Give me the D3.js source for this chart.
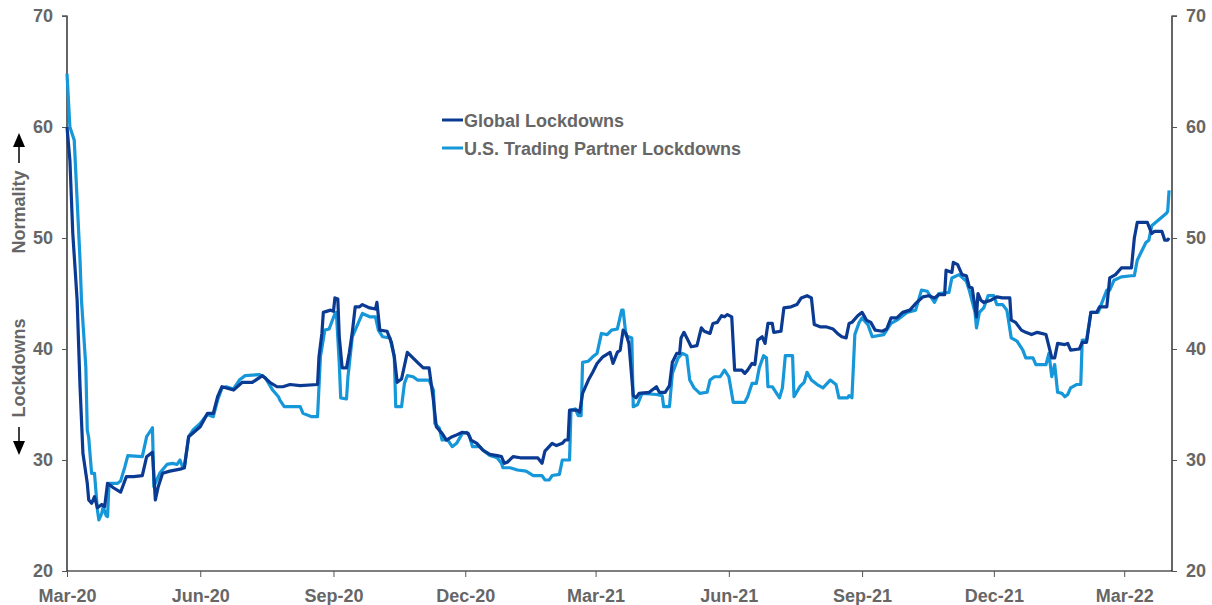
<!DOCTYPE html>
<html><head><meta charset="utf-8">
<script src="https://cdn.jsdelivr.net/npm/d3@7"></script>
<style>body{margin:0;background:#fff;}svg{display:block;font-family:"Liberation Sans",Arial,sans-serif;}</style>
</head><body>
<svg id="chart" width="1212" height="605"></svg>
<script>
// Dates are day offsets from 2020-03-01
const startDate = new Date(2020, 2, 1);
const endDay = 763;
const seriesNames = ["Global Lockdowns", "U.S. Trading Partner Lockdowns"];
const seriesColors = ["#0a3a92", "#1597d9"];
const yTicks = [20, 30, 40, 50, 60, 70];
const xTickLabels = ["Mar-20","Jun-20","Sep-20","Dec-20","Mar-21","Jun-21","Sep-21","Dec-21","Mar-22"];
const xTickDates = ["2020-03-01","2020-06-01","2020-09-01","2020-12-01","2021-03-01","2021-06-01","2021-09-01","2021-12-01","2022-03-01"];

const globalDays = [0,2,4,7,9,11,14,15,17,19,21,24,26,28,32,37,41,46,52,55,59,61,63,66,71,79,81,84,92,97,101,104,107,115,121,128,135,140,145,149,154,161,173,174,176,177,182,184,185,187,188,190,193,195,197,199,202,204,209,213,214,216,221,224,226,228,231,235,242,246,250,253,255,259,262,266,268,273,277,279,283,287,292,297,300,302,304,308,313,325,328,330,335,338,342,344,346,347,352,354,356,360,363,366,370,375,377,380,382,384,386,388,391,393,395,402,407,409,413,416,418,421,423,424,426,428,431,435,438,440,444,446,449,452,454,456,459,461,466,468,470,473,475,477,480,482,484,487,488,493,495,500,504,507,511,514,516,520,524,529,532,535,538,540,542,546,549,552,555,558,563,566,569,573,577,582,586,591,595,599,602,606,607,611,612,615,618,621,623,625,628,629,631,633,638,642,646,651,652,655,659,662,666,670,676,680,682,684,689,691,693,699,701,704,707,711,713,718,720,724,728,735,737,739,746,749,751,756,758,760,761];
const globalValues = [60,57,50.4,44.4,36.6,30.6,27.9,26.4,26.1,26.7,25.7,26,25.8,27.9,27.5,27.1,28.5,28.5,28.6,30.3,30.7,26.4,27.6,28.8,29,29.2,29.3,32.1,33,34.2,34.2,35.7,36.6,36.3,37,37,37.6,37,36.6,36.6,36.8,36.7,36.8,39.3,41.4,43.3,43.5,43.4,44.6,44.5,41.1,38.3,38.3,39.7,41.5,43.8,43.8,44,43.7,43.6,44.2,41.7,41.6,40.6,39.3,37,37.3,39.7,38.8,38.3,38.3,35.4,33,32.4,31.8,32.1,32.2,32.5,32.4,31.8,31.5,30.9,30.5,30.4,30.3,29.7,29.8,30.3,30.2,30.2,29.7,30.8,31.5,31.3,31.5,31.8,31.8,34.5,34.5,34.3,36,37.2,37.9,38.7,39.3,39.7,38.7,39.7,39.9,41.7,41.4,40.5,35.8,35.6,36,36.1,36.6,36.1,36.1,36.7,38.8,39.6,39.6,41,41.5,41,40.2,40.3,41.9,41.6,41.4,42.3,42.4,43,42.9,43.1,42.9,38.1,38.1,37.8,38.1,38.7,38.6,40.8,41.1,40.5,42.3,42.3,41.5,41.6,43.7,43.8,44,44.6,44.8,44.6,42.2,42,42,41.8,41.4,41.1,41,42.3,42.4,43,43.3,42.6,42.4,41.7,41.6,41.8,42.8,42.8,43.3,43.5,44.1,44.7,44.8,44.6,44.9,44.9,47.1,46.9,47.8,47.6,46.7,46.6,45.6,45.5,42.9,45,44.4,44.2,44.4,44.7,44.6,44.6,42.6,42.4,41.7,41.5,41.3,41.5,41.3,39.2,39.2,40.5,40.4,40.5,39.9,40,40.6,40.6,43.3,43.3,43.8,43.8,46.4,46.7,47.3,47.3,50,51.4,51.4,50.4,50.6,50.6,49.8,49.8,50];

const tradeDays = [0,2,5,9,10,13,14,15,17,19,21,22,24,25,27,28,29,35,37,40,42,52,55,57,59,60,64,69,73,76,78,80,81,84,87,92,95,97,101,104,107,110,115,119,123,133,137,142,146,147,150,161,163,169,173,175,178,181,185,186,188,189,193,194,197,201,204,209,213,215,218,223,226,227,231,233,235,239,242,250,253,254,257,259,263,266,269,273,276,278,280,285,288,292,297,300,301,306,311,317,322,328,330,333,335,340,342,347,348,351,353,355,356,360,363,366,369,373,376,380,383,384,386,390,391,394,397,407,411,412,416,418,422,425,428,430,433,437,442,444,447,451,454,457,460,468,470,473,476,478,481,483,484,487,490,492,494,496,501,502,506,509,511,514,518,522,527,531,533,539,540,542,544,547,549,553,556,564,569,573,580,586,590,594,599,602,609,611,616,621,623,627,628,630,633,636,640,642,646,649,652,656,660,662,667,669,676,678,680,682,684,687,689,691,693,697,700,701,704,707,712,718,720,723,728,735,737,739,745,747,749,759,760,761];
const tradeValues = [64.8,60,58.8,48,44.4,38.4,32.7,32,28.8,28.8,25.5,24.6,25.2,25.8,25,24.9,27.9,27.9,28.1,29.4,30.4,30.3,32.1,32.5,32.9,27.6,28.8,29.6,29.7,29.6,30,29.3,29.3,32.1,32.7,33.3,33.8,34.1,33.9,35.4,36.5,36.6,36.4,37.2,37.6,37.7,37.4,36.3,35.7,35.4,34.8,34.8,34.2,33.9,33.9,39.3,41.7,41.8,43.2,43.3,38.7,35.6,35.5,37.5,41.1,42.3,43.2,42.9,42.9,41.7,41.1,41,39.3,34.8,34.8,36.9,37.6,37.5,37.2,37.2,36.3,33.3,32.9,31.8,31.8,31.2,31.5,32.4,32.5,32.1,31.2,31.2,30.8,30.4,30.2,29.7,29.3,29.3,29.1,29,28.6,28.6,28.2,28.2,28.6,28.7,30,30,34.5,34.6,34,34,38.8,38.9,39.3,39.6,41.4,41.3,41.7,41.8,43.5,43.5,41.2,41,34.8,35,36,35.9,35.8,34.8,34.8,37.8,39.2,39.6,39.4,37.2,36.5,36,36.1,37.2,37.5,37.5,38.1,37.5,35.2,35.2,35.7,36.9,36.9,38.3,39.4,39.2,36.6,36.6,36,35.6,36.5,39.4,39.4,35.7,36.6,37,37.9,37.2,36.8,36.5,37.2,36.8,35.6,35.6,35.8,35.6,41.3,42.4,42.8,42.2,41.1,41.3,42.3,42.6,43.3,43.5,45.3,45.2,44.2,45,45.1,46.4,46.7,46.1,45.3,43.3,41.9,43.3,43.7,44.8,44.8,44,44,43.5,41,40.7,39.9,39.2,39.2,38.6,38.6,39.6,37.5,38.6,36.1,36,35.7,35.9,36.5,36.8,36.8,40.8,40.8,43.3,43.3,45.3,45.3,46.2,46.5,46.6,46.6,48,49.6,49.8,51.1,52.2,52.4,54.3,54.5];

(function () {
const svg = d3.select("#chart");
const mLeft = 67, mRight = 1172, mTop = 16, mBottom = 571;
const toDate = d => d3.timeDay.offset(startDate, d);
const x = d3.scaleTime().domain([startDate, toDate(endDay)]).range([mLeft, mRight]);
const y = d3.scaleLinear().domain([20, 70]).range([mBottom, mTop]);
const parse = d3.timeParse("%Y-%m-%d");
const gray = "#666666";
const fs = 18;

const yL = svg.append("g").attr("transform", `translate(${mLeft},0)`)
  .call(d3.axisLeft(y).tickValues(yTicks).tickSize(5).tickPadding(9).tickFormat(d3.format("d")));
const yR = svg.append("g").attr("transform", `translate(${mRight},0)`)
  .call(d3.axisRight(y).tickValues(yTicks).tickSize(5).tickPadding(9).tickFormat(d3.format("d")));
const xA = svg.append("g").attr("transform", `translate(0,${mBottom})`)
  .call(d3.axisBottom(x).tickValues(xTickDates.map(parse)).tickSize(6).tickPadding(10)
    .tickFormat((d, i) => xTickLabels[i]));
[yL, yR, xA].forEach(g => {
  g.select(".domain").attr("stroke", "#000").attr("stroke-width", 1.2);
  g.selectAll(".tick line").attr("stroke", "#555");
  g.selectAll(".tick text").attr("fill", gray).attr("font-size", fs).attr("font-weight", "bold")
    .attr("font-family", "Liberation Sans, Arial, sans-serif");
});
yL.select(".domain").attr("d", `M-5,${mTop}H0V${mBottom}`);
yR.select(".domain").attr("d", `M5,${mTop}H0V${mBottom}`);
xA.select(".domain").attr("d", `M${mLeft},0H${mRight}`);
xA.selectAll(".tick text").attr("dy", "0.85em");

const line = d3.line().x(d => x(toDate(d[0]))).y(d => y(d[1]));
const series = [d3.zip(globalDays, globalValues), d3.zip(tradeDays, tradeValues)];
[1, 0].forEach(i => {
  svg.append("path").datum(series[i]).attr("fill", "none").attr("stroke", seriesColors[i])
    .attr("stroke-width", 3.2).attr("stroke-linejoin", "round").attr("d", line);
});

seriesNames.forEach((name, i) => {
  const ly = 120 + i * 28;
  svg.append("line").attr("x1", 442).attr("x2", 463).attr("y1", ly).attr("y2", ly)
    .attr("stroke", seriesColors[i]).attr("stroke-width", 3);
  svg.append("text").attr("x", 464).attr("y", ly + 6.5).text(name)
    .attr("fill", gray).attr("font-size", fs).attr("font-weight", "bold");
});

// Axis titles with arrows
svg.append("text").attr("transform", "translate(25,212) rotate(-90)").attr("text-anchor", "middle")
  .text("Normality").attr("fill", gray).attr("font-size", fs).attr("font-weight", "bold");
svg.append("text").attr("transform", "translate(25,368) rotate(-90)").attr("text-anchor", "middle")
  .text("Lockdowns").attr("fill", gray).attr("font-size", fs).attr("font-weight", "bold");
const arrowX = 19;
// up arrow
svg.append("line").attr("x1", arrowX).attr("x2", arrowX).attr("y1", 163).attr("y2", 146)
  .attr("stroke", "#000").attr("stroke-width", 1.5);
svg.append("path").attr("d", `M${arrowX - 6},147L${arrowX + 6},147L${arrowX},133Z`).attr("fill", "#000");
// down arrow
svg.append("line").attr("x1", arrowX).attr("x2", arrowX).attr("y1", 427).attr("y2", 442)
  .attr("stroke", "#000").attr("stroke-width", 1.5);
svg.append("path").attr("d", `M${arrowX - 6},441L${arrowX + 6},441L${arrowX},455Z`).attr("fill", "#000");
})();
</script>
</body></html>
